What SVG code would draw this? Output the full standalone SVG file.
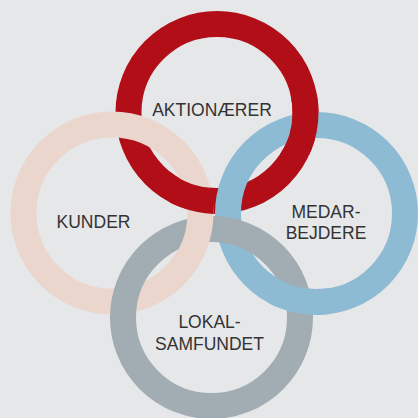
<svg xmlns="http://www.w3.org/2000/svg" xmlns:xlink="http://www.w3.org/1999/xlink" width="418" height="418" viewBox="0 0 418 418">
  <style>
    .ring { fill: none; stroke-width: 26; }
    .red { stroke: #b10e17; }
    .pink { stroke: #ebd6cd; }
    .blue { stroke: #8dbbd3; }
    .gray { stroke: #a1adb2; }
    .lbl { font-family: "Liberation Sans", Arial, sans-serif; font-size: 17.5px; fill: #333333; text-anchor: middle; }
  </style>
  <defs>
    <circle id="c-red" cx="217" cy="112.5" r="88.5"/>
    <circle id="c-pink" cx="112" cy="213" r="88.5"/>
    <circle id="c-blue" cx="316.5" cy="213.5" r="88.5"/>
    <circle id="c-gray" cx="211.5" cy="317.5" r="88.5"/>
    <clipPath id="clip-red-pink"><rect x="170" y="168" width="43.5" height="47"/></clipPath>
    <clipPath id="clip-red-blue"><rect x="280" y="95" width="50" height="60"/></clipPath>
    <clipPath id="clip-pink-gray"><rect x="170" y="215.5" width="45" height="45"/></clipPath>
    <clipPath id="clip-blue-gray"><rect x="268" y="268" width="62" height="62"/></clipPath>
  </defs>
  <rect width="418" height="418" fill="#e6e7e9"/>
  <g id="aktionaerer">
    <use href="#c-red" class="ring red"/>
    <text class="lbl" x="212" y="115.5">AKTIONÆRER</text>
  </g>
  <g id="kunder">
    <use href="#c-pink" class="ring pink"/>
    <text class="lbl" x="93.5" y="227.5">KUNDER</text>
  </g>
  <g id="medarbejdere">
    <use href="#c-blue" class="ring blue"/>
    <text class="lbl" x="326" y="218.3">MEDAR-</text>
    <text class="lbl" x="326" y="238.5">BEJDERE</text>
  </g>
  <g id="lokalsamfundet">
    <use href="#c-gray" class="ring gray"/>
    <text class="lbl" x="209.5" y="328.3">LOKAL-</text>
    <text class="lbl" x="209.5" y="350">SAMFUNDET</text>
  </g>
  <g id="interlocks">
    <use href="#c-red" class="ring red" clip-path="url(#clip-red-pink)"/>
    <use href="#c-red" class="ring red" clip-path="url(#clip-red-blue)"/>
    <use href="#c-pink" class="ring pink" clip-path="url(#clip-pink-gray)"/>
    <use href="#c-blue" class="ring blue" clip-path="url(#clip-blue-gray)"/>
  </g>
</svg>
